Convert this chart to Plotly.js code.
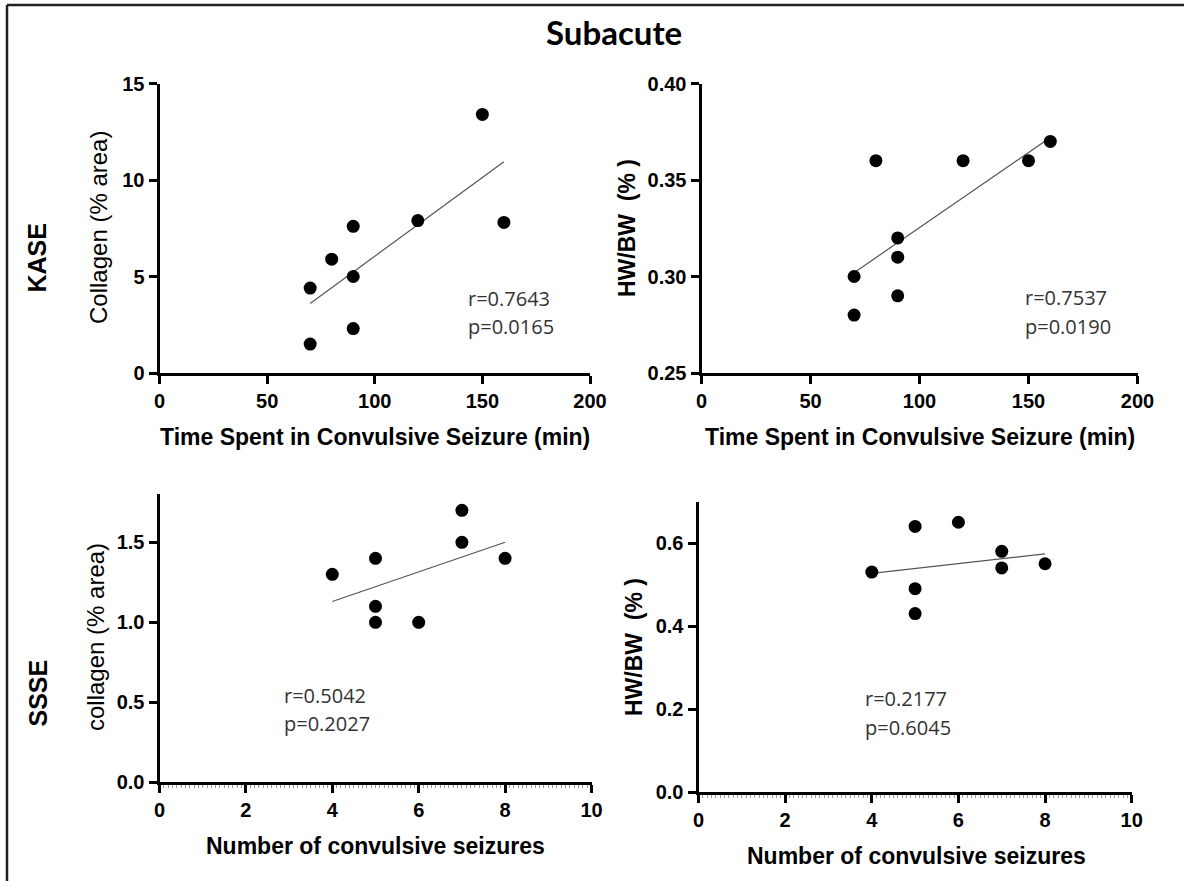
<!DOCTYPE html>
<html>
<head>
<meta charset="utf-8">
<script src="https://cdn.plot.ly/plotly-3.0.1.min.js"></script>
<style>html,body{margin:0;padding:0;background:#fff;}#chart{width:1184px;height:881px;}</style>
</head>
<body>
<div id="chart"></div>
<script>
// ---- data ----
const kaseTime = [70, 70, 80, 90, 90, 90, 120, 150, 160];
const kaseCollagen = [4.4, 1.5, 5.9, 7.6, 5.0, 2.3, 7.9, 13.4, 7.8];
const kaseHWBW = [0.30, 0.28, 0.36, 0.32, 0.31, 0.29, 0.36, 0.36, 0.37];
const kaseFitX = [70, 160];
const kaseCollagenFit = [3.6, 10.95];
const kaseHWBWFit = [0.302, 0.372];

const ssseSeizures = [4, 5, 5, 5, 6, 7, 7, 8];
const ssseCollagen = [1.3, 1.4, 1.1, 1.0, 1.0, 1.7, 1.5, 1.4];
const ssseHWBW = [0.53, 0.64, 0.49, 0.43, 0.65, 0.58, 0.54, 0.55];
const ssseFitX = [4, 8];
const ssseCollagenFit = [1.13, 1.50];
const ssseHWBWFit = [0.527, 0.574];

const stats = [
  {r: "r=0.7643", p: "p=0.0165"},
  {r: "r=0.7537", p: "p=0.0190"},
  {r: "r=0.5042", p: "p=0.2027"},
  {r: "r=0.2177", p: "p=0.6045"}
];
const mainTitle = "Subacute";
const rowLabels = ["KASE", "SSSE"];
const xTitles = ["Time Spent in Convulsive Seizure (min)", "Time Spent in Convulsive Seizure (min)",
                 "Number of convulsive seizures", "Number of convulsive seizures"];
const yTitles = ["Collagen (% area)", "HW/BW  (% )", "collagen (% area)", "HW/BW  (% )"];

// ---- layout helpers ----
const W = 1184, H = 881;
const fx = p => p / W;
const fy = p => 1 - p / H;
const ARIAL = "Liberation Sans, Arial, sans-serif";

function pts(x, y, xa, ya) {
  return {x: x, y: y, xaxis: xa, yaxis: ya, type: "scatter", mode: "markers",
          marker: {color: "#000", size: 13}, hoverinfo: "skip", cliponaxis: false};
}
function fit(x, y, xa, ya) {
  return {x: x, y: y, xaxis: xa, yaxis: ya, type: "scatter", mode: "lines",
          line: {color: "#555", width: 1.2}, hoverinfo: "skip"};
}

const data = [
  fit(kaseFitX, kaseCollagenFit, "x", "y"), pts(kaseTime, kaseCollagen, "x", "y"),
  fit(kaseFitX, kaseHWBWFit, "x2", "y2"), pts(kaseTime, kaseHWBW, "x2", "y2"),
  fit(ssseFitX, ssseCollagenFit, "x3", "y3"), pts(ssseSeizures, ssseCollagen, "x3", "y3"),
  fit(ssseFitX, ssseHWBWFit, "x4", "y4"), pts(ssseSeizures, ssseHWBW, "x4", "y4")
];

function ax(extra) {
  return Object.assign({
    showline: true, linecolor: "#000", linewidth: 3,
    ticks: "outside", ticklen: 8, tickwidth: 3, tickcolor: "#000",
    showgrid: false, zeroline: false, fixedrange: true,
    tickfont: {family: ARIAL, size: 20, color: "#000", weight: "bold"}
  }, extra);
}

const layout = {
  width: W, height: H,
  margin: {l: 0, r: 0, t: 0, b: 0},
  paper_bgcolor: "#fff", plot_bgcolor: "rgba(0,0,0,0)",
  showlegend: false,
  xaxis: ax({domain: [fx(159.5), fx(590)], range: [0, 200], dtick: 50, anchor: "y"}),
  yaxis: ax({domain: [fy(373), fy(83.5)], range: [0, 15], dtick: 5, anchor: "x"}),
  xaxis2: ax({domain: [fx(701.5), fx(1137.5)], range: [0, 200], dtick: 50, anchor: "y2"}),
  yaxis2: ax({domain: [fy(373), fy(83.5)], range: [0.25, 0.40], dtick: 0.05, tickformat: ".2f", anchor: "x2"}),
  xaxis3: ax({domain: [fx(159.5), fx(591.5)], range: [0, 10], dtick: 2, anchor: "y3",
              minor: {dtick: 0.1, ticks: "outside", ticklen: 3, tickwidth: 1, tickcolor: "#999"}}),
  yaxis3: ax({domain: [fy(782.3), fy(494.3)], range: [0, 1.8], tickvals: [0, 0.5, 1, 1.5], tickformat: ".1f", anchor: "x3"}),
  xaxis4: ax({domain: [fx(698.5), fx(1131.7)], range: [0, 10], dtick: 2, anchor: "y4",
              minor: {dtick: 0.1, ticks: "outside", ticklen: 3, tickwidth: 1, tickcolor: "#999"}}),
  yaxis4: ax({domain: [fy(792), fy(501.5)], range: [0, 0.7], tickvals: [0, 0.2, 0.4, 0.6], tickformat: ".1f", anchor: "x4"}),
  shapes: [
    {type: "line", xref: "paper", yref: "paper", x0: fx(7), x1: 1, y0: fy(5), y1: fy(5), line: {color: "#222", width: 2.5}},
    {type: "line", xref: "paper", yref: "paper", x0: fx(7), x1: fx(7), y0: fy(5), y1: 0, line: {color: "#222", width: 2.5}}
  ],
  annotations: []
};

function note(text, x, y, opts) {
  layout.annotations.push(Object.assign({
    text: text, xref: "paper", yref: "paper", x: fx(x), y: fy(y),
    xanchor: "center", yanchor: "middle", showarrow: false,
    font: {family: ARIAL, size: 23, color: "#000"}
  }, opts || {}));
}

// main title and row labels
note(mainTitle, 614, 32, {font: {family: "Lato, sans-serif", size: 33, color: "#000", weight: "bold"}});
note(rowLabels[0], 36.5, 258, {textangle: -90, font: {family: ARIAL, size: 25, color: "#000", weight: "bold"}});
note(rowLabels[1], 37.5, 693, {textangle: -90, font: {family: ARIAL, size: 25, color: "#000", weight: "bold"}});

// axis titles
const xtPos = [[374.5, 437], [919.5, 437], [375.5, 846], [916, 856]];
const ytPos = [[98, 228], [626.5, 228.5], [95, 637], [634, 647]];
const ytBold = [false, true, false, true];
for (let i = 0; i < 4; i++) {
  note(xTitles[i], xtPos[i][0], xtPos[i][1], {font: {family: ARIAL, size: 23, color: "#000", weight: "bold"}});
  note(yTitles[i], ytPos[i][0], ytPos[i][1], {textangle: -90,
       font: {family: ARIAL, size: ytBold[i] ? 23 : 24, color: "#000", weight: ytBold[i] ? "bold" : "normal"}});
}

// r / p statistics
const stPos = [[465.7, 298, 327], [1022.5, 297, 326.5], [282, 695, 723], [862.5, 698, 727]];
for (let i = 0; i < 4; i++) {
  const f = {family: "Open Sans, sans-serif", size: 20, color: "#333"};
  note(stats[i].r, stPos[i][0], stPos[i][1], {xanchor: "left", font: f});
  note(stats[i].p, stPos[i][0], stPos[i][2], {xanchor: "left", font: f});
}

Plotly.newPlot("chart", data, layout, {staticPlot: true, displayModeBar: false});
</script>
</body>
</html>
